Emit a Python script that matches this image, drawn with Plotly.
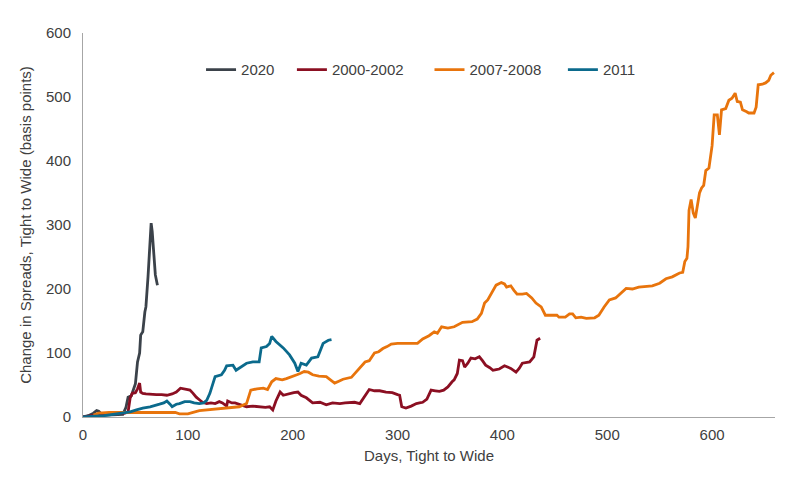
import plotly.graph_objects as go

# ---- data (days, change in spreads in bp) ----
days_2020 = [0, 5, 10, 13, 15, 18, 22, 30, 38, 41, 43, 46, 48, 50, 52, 54, 55, 57, 59, 60, 62, 64, 65, 66, 67, 68, 69, 71]
vals_2020 = [0, 2, 6, 10, 9, 4, 3, 3, 4, 15, 31, 33, 42, 52, 86, 100, 128, 133, 164, 172, 219, 272, 303, 290, 265, 234, 222, 206]

days_2000 = [0, 10, 20, 30, 40, 43, 45, 47, 50, 52, 54, 55, 57, 60, 65, 70, 75, 80, 85, 89,
             93, 97, 102, 105, 108, 111, 114, 118, 122, 126, 130, 133, 137, 138, 142, 145, 150, 156, 162, 168,
             174, 178, 181, 184, 188, 191, 197, 201, 205, 208, 213, 219, 226, 232, 238, 245, 250, 255, 259, 264,
             268, 273, 278, 283, 289, 295, 300, 302, 304, 308, 313, 318, 321, 324, 328, 332, 336, 340, 344, 348,
             352, 354, 357, 359, 362, 364, 367, 370, 374, 378, 381, 384, 388, 391, 394, 397, 402, 405, 408, 413,
             416, 419, 423, 426, 430, 433, 436]
vals_2000 = [0, 3, 5, 5, 6, 8, 30, 37, 38, 44, 53, 39, 37, 36, 35, 35, 35, 34, 36, 39,
             45, 44, 42, 37, 31, 27, 23, 21, 22, 21, 24, 22, 17, 25, 22, 22, 19, 16, 17, 16,
             15, 16, 11, 25, 39, 34, 37, 38, 39, 34, 30, 22, 23, 19, 22, 21, 22, 23, 23, 21,
             30, 43, 41, 41, 39, 38, 35, 34, 16, 14, 17, 21, 22, 23, 28, 42, 41, 40, 42, 47,
             55, 58, 68, 89, 88, 78, 84, 92, 91, 94, 88, 81, 77, 73, 74, 75, 80, 78, 76, 70,
             76, 84, 85, 86, 94, 120, 123]

days_2007 = [10, 15, 25, 40, 60, 88, 92, 100, 111, 124, 137, 149, 156, 160, 166, 172, 176, 180, 184, 190,
             194, 200, 204, 207, 211, 215, 219, 225, 232, 236, 240, 244, 248, 256, 261, 265, 269, 273, 278, 282,
             286, 290, 294, 300, 310, 319, 324, 330, 335, 338, 342, 348, 354, 358, 362, 371, 376, 380, 383, 386,
             390, 394, 399, 402, 404, 408, 411, 414, 419, 423, 428, 432, 437, 441, 452, 454, 460, 464, 467, 470,
             475, 480, 488, 492, 497, 502, 508, 513, 518, 524, 530, 543, 550, 556, 562, 569, 572, 574, 576, 577,
             578, 580, 582, 584, 588, 590, 592, 594, 597, 600, 602, 605, 607, 609, 613, 616, 619, 622, 624, 627,
             629, 633, 635, 640, 642, 644, 648, 651, 654, 656, 659]
vals_2007 = [3, 6, 7, 7, 7, 7, 5, 5, 10, 12, 14, 16, 21, 42, 44, 45, 43, 55, 60, 58,
             60, 63, 66, 68, 71, 70, 66, 64, 63, 58, 53, 56, 59, 62, 71, 78, 86, 88, 100, 102,
             107, 110, 114, 115, 115, 115, 122, 127, 133, 131, 141, 139, 141, 145, 148, 149, 153, 162, 178, 183,
             195, 206, 210, 208, 203, 205, 198, 192, 192, 193, 186, 178, 172, 159, 159, 156, 156, 161, 161, 155,
             156, 154, 155, 159, 172, 183, 186, 194, 201, 200, 203, 205, 209, 216, 219, 225, 226, 243, 248, 266,
             323, 340, 319, 311, 350, 358, 362, 385, 389, 424, 472, 472, 441, 480, 482, 495, 498, 506, 493, 492,
             480, 477, 475, 475, 484, 519, 520, 522, 526, 534, 538]

days_2011 = [0, 10, 20, 32, 40, 45, 51, 57, 64, 70, 73, 77, 80, 83, 85, 89, 92, 97, 102, 106,
             111, 115, 118, 121, 124, 126, 132, 135, 137, 143, 146, 151, 156, 162, 168, 170, 175, 178, 180, 184,
             188, 191, 197, 202, 205, 208, 213, 218, 224, 229, 234, 237]
vals_2011 = [0, 1, 2, 5, 7, 8, 11, 14, 16, 18, 20, 22, 25, 20, 16, 20, 21, 24, 24, 22,
             21, 22, 26, 37, 55, 63, 66, 73, 80, 81, 73, 79, 84, 86, 86, 108, 110, 115, 126, 118,
             112, 108, 97, 84, 71, 84, 81, 92, 94, 115, 120, 121]

series_names = ["2020", "2000-2002", "2007-2008", "2011"]

series = [
    (days_2020, vals_2020, "#3B424A"),
    (days_2000, vals_2000, "#8B0F22"),
    (days_2007, vals_2007, "#E8740C"),
    (days_2011, vals_2011, "#0B6A8C"),
]

# non-breaking-space padding after each legend label (entry spacing)
pads = [3, 5, 4, 0]

fig = go.Figure()
for name, (x, y, c), p in zip(series_names, series, pads):
    fig.add_trace(go.Scatter(x=x, y=y, mode="lines", name=name + "\u00a0" * p,
                             line=dict(color=c, width=2.8)))

font = dict(family="Liberation Sans, Arial, sans-serif", size=15, color="#404040")
fig.update_layout(
    width=786, height=461,
    margin=dict(l=75, r=19, t=25, b=52),
    paper_bgcolor="white", plot_bgcolor="white",
    font=font,
    showlegend=True,
    legend=dict(orientation="h", x=0.4885, xanchor="center", y=0.904, yanchor="middle",
                font=font, bgcolor="rgba(0,0,0,0)", itemwidth=30),
    xaxis=dict(range=[0, 660], dtick=100, showgrid=False, zeroline=False,
               showline=True, linecolor="#A6A6A6", linewidth=1, ticks="",
               ticklabelstandoff=4,
               title=dict(text="Days, Tight to Wide", font=font, standoff=8),
               automargin=False),
    yaxis=dict(range=[0, 600], dtick=100, showgrid=False, zeroline=False,
               showline=True, linecolor="#A6A6A6", linewidth=1, ticks="",
               ticklabelstandoff=8,
               title=dict(text="Change in Spreads, Tight to Wide (basis points)", font=font, standoff=10),
               automargin=False),
)

fig.write_html("out.html")
